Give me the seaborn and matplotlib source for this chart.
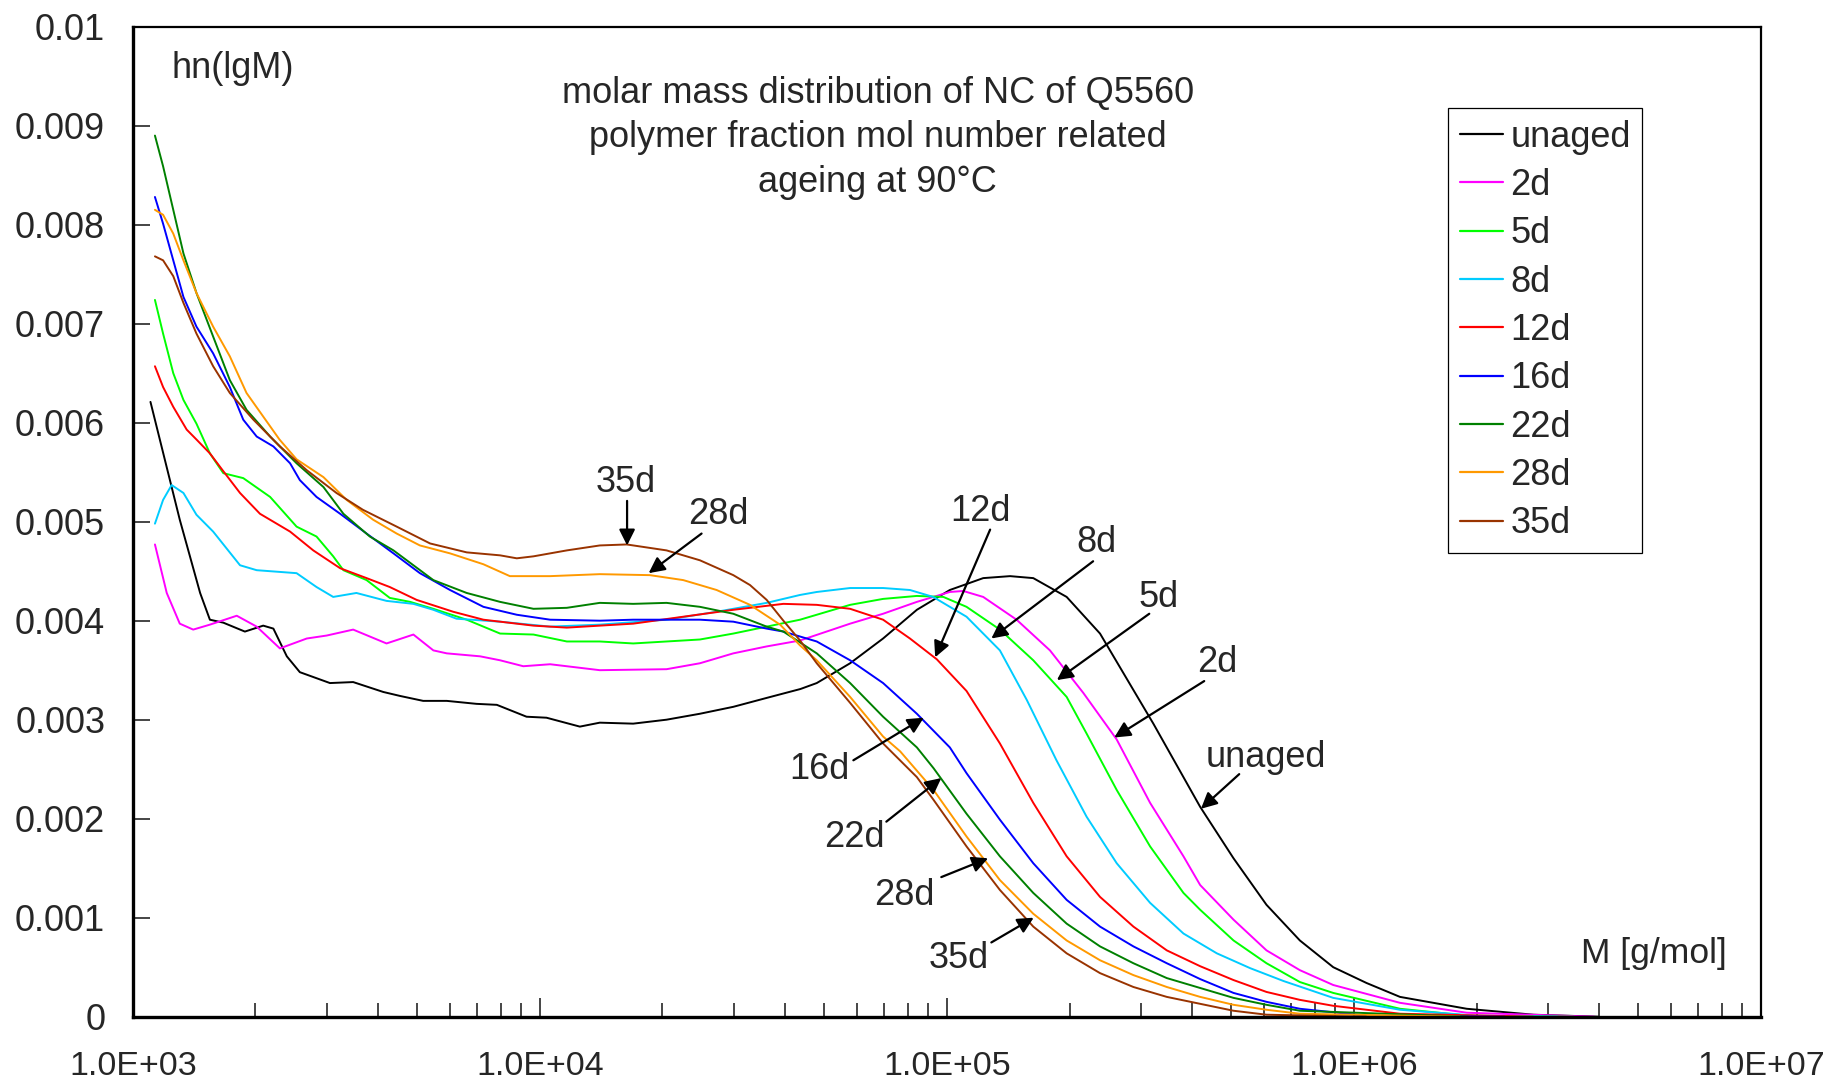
import numpy as np
import pandas as pd
import matplotlib
matplotlib.use("Agg")
import matplotlib.pyplot as plt
import seaborn as sns
from matplotlib.lines import Line2D
from matplotlib.ticker import FixedLocator, LogLocator, FuncFormatter, NullFormatter

# ---------------- data (log10 of M [g/mol], hn(lgM)) ----------------
series_names = ["unaged", "2d", "5d", "8d", "12d", "16d", "22d", "28d", "35d"]
series_colors = ["#000000", "#FF00FF", "#00FF00", "#00CCFF", "#FF0000",
                 "#0000FF", "#008000", "#FF9900", "#993300"]

lgM_unaged = [3.043, 3.115, 3.165, 3.189, 3.222, 3.275, 3.32, 3.345, 3.378, 3.41, 3.484, 3.541,
              3.615, 3.656, 3.713, 3.771, 3.844, 3.894, 3.967, 4.016, 4.098, 4.147, 4.229, 4.311,
              4.393, 4.475, 4.557, 4.64, 4.68, 4.762, 4.843, 4.926, 5.007, 5.089, 5.155, 5.212,
              5.294, 5.376, 5.458, 5.507, 5.622, 5.704, 5.785, 5.867, 5.949, 6.031, 6.113, 6.277,
              6.441, 6.6]
hn_unaged = [0.00621, 0.00502, 0.00428, 0.00401, 0.00398, 0.00389, 0.00395, 0.00392, 0.00364,
             0.00348, 0.00337, 0.00338, 0.00328, 0.00324, 0.00319, 0.00319, 0.00316, 0.00315,
             0.00303, 0.00302, 0.00293, 0.00297, 0.00296, 0.0030, 0.00306, 0.00313, 0.00322,
             0.00331, 0.00337, 0.00357, 0.00382, 0.00411, 0.00431, 0.00443, 0.00445, 0.00443,
             0.00424, 0.00387, 0.0033, 0.00296, 0.00212, 0.0016, 0.00113, 0.00077, 0.0005,
             0.00034, 0.0002, 0.00008, 0.00002, 0.0]

lgM_2d = [3.054, 3.083, 3.115, 3.148, 3.189, 3.255, 3.304, 3.361, 3.427, 3.476, 3.541, 3.623,
          3.689, 3.738, 3.771, 3.853, 3.902, 3.959, 4.025, 4.147, 4.311, 4.393, 4.475, 4.557,
          4.639, 4.762, 4.843, 4.926, 5.007, 5.04, 5.089, 5.171, 5.253, 5.335, 5.417, 5.499,
          5.581, 5.622, 5.704, 5.785, 5.867, 5.949, 6.113, 6.277, 6.59]
hn_2d = [0.00477, 0.00428, 0.00397, 0.00391, 0.00396, 0.00405, 0.00394, 0.00372, 0.00382,
         0.00385, 0.00391, 0.00377, 0.00386, 0.0037, 0.00367, 0.00364, 0.0036, 0.00354, 0.00356,
         0.0035, 0.00351, 0.00357, 0.00367, 0.00374, 0.0038, 0.00397, 0.00407, 0.00419, 0.00429,
         0.0043, 0.00424, 0.00401, 0.0037, 0.00327, 0.0028, 0.00216, 0.00162, 0.00133, 0.00098,
         0.00067, 0.00047, 0.00032, 0.00014, 0.00004, 0.0]

lgM_5d = [3.054, 3.074, 3.099, 3.124, 3.156, 3.189, 3.222, 3.271, 3.337, 3.402, 3.451, 3.492,
          3.517, 3.574, 3.631, 3.681, 3.738, 3.82, 3.902, 3.984, 4.066, 4.147, 4.229, 4.393,
          4.475, 4.557, 4.639, 4.68, 4.762, 4.843, 4.926, 4.991, 5.048, 5.13, 5.212, 5.294,
          5.343, 5.417, 5.499, 5.581, 5.622, 5.704, 5.785, 5.867, 5.949, 6.113, 6.28, 6.54]
hn_5d = [0.00724, 0.0069, 0.0065, 0.00623, 0.00599, 0.00569, 0.00549, 0.00544, 0.00525, 0.00495,
         0.00485, 0.00465, 0.00451, 0.00441, 0.00423, 0.00419, 0.00412, 0.00401, 0.00387, 0.00386,
         0.00379, 0.00379, 0.00377, 0.00381, 0.00387, 0.00394, 0.00401, 0.00406, 0.00416,
         0.00422, 0.00425, 0.00424, 0.00414, 0.00391, 0.0036, 0.00323, 0.00286, 0.00229,
         0.00172, 0.00125, 0.00108, 0.00077, 0.00054, 0.00035, 0.00024, 0.00008, 0.00001, 0.0]

lgM_8d = [3.054, 3.074, 3.095, 3.124, 3.156, 3.197, 3.23, 3.263, 3.304, 3.402, 3.451, 3.492,
          3.549, 3.623, 3.689, 3.738, 3.795, 3.902, 4.025, 4.147, 4.311, 4.434, 4.557, 4.639,
          4.68, 4.762, 4.843, 4.909, 4.966, 5.048, 5.13, 5.196, 5.269, 5.343, 5.417, 5.499,
          5.581, 5.663, 5.745, 5.827, 5.949, 6.113, 6.3, 6.5]
hn_8d = [0.00498, 0.00522, 0.00537, 0.00529, 0.00507, 0.0049, 0.00473, 0.00456, 0.00451, 0.00448,
         0.00434, 0.00424, 0.00428, 0.0042, 0.00417, 0.00411, 0.00402, 0.00399, 0.00394, 0.00396,
         0.00401, 0.00409, 0.00418, 0.00426, 0.00429, 0.00433, 0.00433, 0.00431, 0.00424,
         0.00404, 0.0037, 0.0032, 0.00259, 0.00202, 0.00155, 0.00115, 0.00084, 0.00064, 0.00049,
         0.00036, 0.00019, 0.00007, 0.00001, 0.0]

lgM_12d = [3.054, 3.074, 3.099, 3.132, 3.156, 3.189, 3.222, 3.263, 3.312, 3.386, 3.443, 3.509,
           3.574, 3.631, 3.697, 3.787, 3.861, 3.984, 4.066, 4.147, 4.229, 4.352, 4.475, 4.598,
           4.68, 4.762, 4.843, 4.909, 4.975, 5.048, 5.13, 5.212, 5.294, 5.376, 5.458, 5.54,
           5.622, 5.704, 5.785, 5.867, 5.949, 6.113, 6.44]
hn_12d = [0.00657, 0.00636, 0.00616, 0.00593, 0.00583, 0.00569, 0.00551, 0.00529, 0.00508,
          0.0049, 0.00471, 0.00453, 0.00443, 0.00434, 0.00421, 0.00409, 0.00401, 0.00395,
          0.00393, 0.00395, 0.00397, 0.00404, 0.00411, 0.00417, 0.00416, 0.00412, 0.00401,
          0.00382, 0.00361, 0.00329, 0.00276, 0.00216, 0.00162, 0.00121, 0.00091, 0.00067,
          0.00051, 0.00037, 0.00025, 0.00017, 0.00011, 0.00003, 0.0]

lgM_16d = [3.054, 3.074, 3.099, 3.124, 3.156, 3.197, 3.238, 3.271, 3.304, 3.345, 3.386, 3.41,
           3.451, 3.509, 3.574, 3.64, 3.705, 3.779, 3.861, 3.943, 4.025, 4.147, 4.229, 4.393,
           4.475, 4.557, 4.598, 4.68, 4.762, 4.843, 4.926, 5.007, 5.048, 5.13, 5.212, 5.294,
           5.376, 5.458, 5.54, 5.622, 5.704, 5.785, 5.867, 6.03, 6.37]
hn_16d = [0.00828, 0.00801, 0.00764, 0.00727, 0.00697, 0.0067, 0.00636, 0.00603, 0.00586,
          0.00576, 0.00559, 0.00542, 0.00525, 0.00508, 0.00488, 0.00468, 0.00448, 0.00431,
          0.00414, 0.00406, 0.00401, 0.0040, 0.00401, 0.00401, 0.00399, 0.00392, 0.00389,
          0.00379, 0.0036, 0.00337, 0.00306, 0.00272, 0.00246, 0.00199, 0.00155, 0.00118,
          0.00091, 0.00071, 0.00054, 0.00038, 0.00024, 0.00015, 0.00008, 0.00001, 0.0]

lgM_22d = [3.054, 3.074, 3.099, 3.124, 3.156, 3.197, 3.238, 3.279, 3.337, 3.402, 3.468, 3.517,
           3.582, 3.64, 3.738, 3.82, 3.902, 3.984, 4.066, 4.147, 4.229, 4.311, 4.393, 4.475,
           4.557, 4.598, 4.68, 4.762, 4.843, 4.926, 4.967, 5.048, 5.13, 5.212, 5.294, 5.376,
           5.458, 5.54, 5.622, 5.704, 5.785, 5.867, 6.28]
hn_22d = [0.0089, 0.00859, 0.00815, 0.00771, 0.00731, 0.00687, 0.00643, 0.00613, 0.00586,
          0.00559, 0.00535, 0.00508, 0.00485, 0.00471, 0.00441, 0.00428, 0.00419, 0.00412,
          0.00413, 0.00418, 0.00417, 0.00418, 0.00414, 0.00407, 0.00394, 0.00389, 0.00367,
          0.00337, 0.00303, 0.00272, 0.00251, 0.00205, 0.00162, 0.00125, 0.00094, 0.00071,
          0.00054, 0.00039, 0.00029, 0.00019, 0.00012, 0.00006, 0.0]

lgM_28d = [3.054, 3.074, 3.099, 3.124, 3.156, 3.197, 3.238, 3.279, 3.36, 3.402, 3.468, 3.525,
           3.59, 3.648, 3.705, 3.779, 3.861, 3.926, 4.025, 4.147, 4.27, 4.352, 4.434, 4.516,
           4.59, 4.639, 4.68, 4.762, 4.843, 4.885, 4.967, 5.048, 5.13, 5.212, 5.294, 5.376,
           5.458, 5.54, 5.622, 5.704, 5.785, 5.867, 6.26]
hn_28d = [0.00815, 0.0081, 0.00791, 0.00764, 0.00731, 0.00697, 0.00667, 0.0063, 0.00583,
          0.00563, 0.00545, 0.00522, 0.00502, 0.00488, 0.00476, 0.00468, 0.00457, 0.00445,
          0.00445, 0.00447, 0.00446, 0.00441, 0.00431, 0.00416, 0.00396, 0.00375, 0.0036,
          0.00323, 0.00283, 0.00268, 0.00229, 0.00182, 0.00138, 0.00104, 0.00077, 0.00057,
          0.00042, 0.0003, 0.0002, 0.00012, 0.00007, 0.00003, 0.0]

lgM_35d = [3.054, 3.074, 3.099, 3.124, 3.156, 3.197, 3.238, 3.296, 3.361, 3.427, 3.5, 3.565,
           3.648, 3.73, 3.82, 3.902, 3.943, 3.984, 4.066, 4.147, 4.213, 4.311, 4.393, 4.475,
           4.516, 4.557, 4.598, 4.639, 4.68, 4.762, 4.843, 4.926, 4.967, 5.048, 5.13, 5.212,
           5.294, 5.376, 5.458, 5.54, 5.622, 5.704, 5.785, 6.03]
hn_35d = [0.00768, 0.00764, 0.00748, 0.00721, 0.0069, 0.00657, 0.0063, 0.00603, 0.00576,
          0.00552, 0.00529, 0.00512, 0.00495, 0.00478, 0.00469, 0.00466, 0.00463, 0.00465,
          0.00471, 0.00476, 0.00477, 0.00471, 0.00461, 0.00446, 0.00436, 0.00421, 0.0040,
          0.0038, 0.00357, 0.00317, 0.00276, 0.00242, 0.00219, 0.00172, 0.00128, 0.00091,
          0.00064, 0.00044, 0.0003, 0.0002, 0.00013, 0.00006, 0.00002, 0.0]

series_lgM = [lgM_unaged, lgM_2d, lgM_5d, lgM_8d, lgM_12d, lgM_16d, lgM_22d, lgM_28d, lgM_35d]
series_hn = [hn_unaged, hn_2d, hn_5d, hn_8d, hn_12d, hn_16d, hn_22d, hn_28d, hn_35d]

y_ticks = [0, 0.001, 0.002, 0.003, 0.004, 0.005, 0.006, 0.007, 0.008, 0.009, 0.01]
y_tick_labels = ["0", "0.001", "0.002", "0.003", "0.004", "0.005", "0.006", "0.007",
                 "0.008", "0.009", "0.01"]
title_lines = ["molar mass distribution of NC of Q5560",
               "polymer fraction mol number related",
               "ageing at 90°C"]

# (label, text pos (lgM, hn), arrow tail (lgM, hn), arrow head (lgM, hn))
annotations = [
    ("35d", (4.210, 0.00540), (4.214, 0.00521), (4.214, 0.00476)),
    ("28d", (4.437, 0.00507), (4.397, 0.00488), (4.267, 0.00448)),
    ("12d", (5.083, 0.00510), (5.106, 0.00492), (4.971, 0.00363)),
    ("8d", (5.368, 0.00479), (5.359, 0.00460), (5.109, 0.00382)),
    ("5d", (5.520, 0.00423), (5.497, 0.00407), (5.270, 0.00340)),
    ("2d", (5.664, 0.00358), (5.632, 0.00339), (5.411, 0.00282)),
    ("unaged", (5.784, 0.00262), (5.718, 0.00245), (5.624, 0.00210)),
    ("16d", (4.687, 0.00250), (4.770, 0.00259), (4.943, 0.00302)),
    ("22d", (4.773, 0.00181), (4.851, 0.00197), (4.986, 0.00241)),
    ("28d", (4.894, 0.00122), (4.986, 0.00141), (5.101, 0.00160)),
    ("35d", (5.029, 0.00059), (5.109, 0.00075), (5.213, 0.00100)),
]

# ---------------- build long-form table ----------------
rows = []
for name, xs, ys in zip(series_names, series_lgM, series_hn):
    for lx, yv in zip(xs, ys):
        rows.append({"series": name, "M": 10 ** lx, "hn": yv})
df = pd.DataFrame(rows)
palette = dict(zip(series_names, series_colors))

# ---------------- plot ----------------
sns.set_style("white")
plt.rcParams["font.family"] = ["Liberation Sans", "DejaVu Sans"]
FS = 26

fig = plt.figure(figsize=(18.34, 10.89), dpi=100)
ax = fig.add_axes([0.0725, 0.0664, 0.8877, 0.9091])
ax.set_xscale("log")

sns.lineplot(data=df, x="M", y="hn", hue="series", hue_order=series_names,
             palette=palette, sort=False, estimator=None, linewidth=1.4,
             legend=False, ax=ax)
for ln in ax.get_lines():
    ln.set_solid_joinstyle("round")
    ln.set_solid_capstyle("round")

ax.set_xlim(1e3, 1e7)
ax.set_ylim(0, 0.01)
ax.set_xlabel("")
ax.set_ylabel("")

ax.xaxis.set_major_locator(LogLocator(base=10, numticks=10))
ax.xaxis.set_minor_locator(LogLocator(base=10, subs=np.arange(2, 10), numticks=100))
ax.xaxis.set_major_formatter(FuncFormatter(lambda v, p: f"{v:.1E}"))
ax.xaxis.set_minor_formatter(NullFormatter())
ax.yaxis.set_major_locator(FixedLocator(y_ticks))
ax.set_yticklabels(y_tick_labels)

ax.tick_params(axis="x", which="major", direction="in", length=14, width=1.2,
               labelsize=24.5, pad=25, bottom=True, top=False)
ax.tick_params(axis="x", which="minor", direction="in", length=10, width=1.2,
               bottom=True, top=False)
ax.tick_params(axis="y", which="major", direction="in", length=12, width=1.2,
               labelsize=FS, pad=20, left=True, right=False)

for side in ["left", "bottom"]:
    ax.spines[side].set_linewidth(2.4)
    ax.spines[side].set_color("black")
for side in ["top", "right"]:
    ax.spines[side].set_linewidth(1.6)
    ax.spines[side].set_color("black")

# axis captions
ax.text(10 ** 3.244, 0.00958, "hn(lgM)", fontsize=FS, ha="center", va="center")
ax.text(10 ** 6.736, 0.00064, "M [g/mol]", fontsize=FS - 0.5, ha="center", va="center")

# title lines
for i, line in enumerate(title_lines):
    ax.text(0.4575, 0.9326 - i * 0.0449, line, transform=ax.transAxes,
            fontsize=FS, ha="center", va="center")

# annotations
for label, tpos, tail, head in annotations:
    ax.text(10 ** tpos[0], tpos[1], label, fontsize=FS, ha="center", va="center")
    ax.annotate("", xy=(10 ** head[0], head[1]), xytext=(10 ** tail[0], tail[1]),
                arrowprops=dict(arrowstyle="-|>", color="black", lw=1.6,
                                mutation_scale=24, shrinkA=0, shrinkB=0))

# legend
handles = [Line2D([0], [0], color=c, lw=1.6) for c in series_colors]
leg = ax.legend(handles, series_names, loc="upper left",
                bbox_to_anchor=(0.8078, 0.9179), borderaxespad=0,
                fontsize=FS, frameon=True, fancybox=False, framealpha=1,
                edgecolor="black", handlelength=1.2, handletextpad=0.2,
                borderpad=0.32, labelspacing=0.37)
leg.get_frame().set_linewidth(0.9)

fig.savefig("out.png", dpi=100)
